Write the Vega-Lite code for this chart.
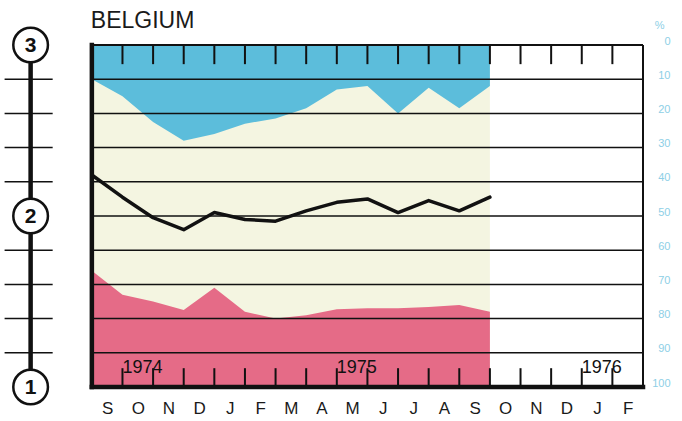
{
  "$schema": "https://vega.github.io/schema/vega-lite/v6.json",
  "width": 643,
  "height": 342,
  "autosize": {"type": "none"},
  "padding": {"left": 0, "top": 45, "right": 39, "bottom": 34},
  "background": "#ffffff",
  "config": {
    "view": {"stroke": null},
    "font": "Liberation Sans",
    "axisX": {"domain": false, "ticks": false, "tickSize": 0, "grid": false, "labelFontSize": 17, "labelColor": "#1a1a1a", "labelPadding": 13, "labelFlush": false, "labelOverlap": false, "labelBound": false, "labelFont": "Liberation Sans"},
    "axisY": {"domain": false, "ticks": false, "tickSize": 0, "grid": false, "labelColor": "#8ecfe6", "labelFontSize": 11, "labelAlign": "right", "labelBaseline": "middle", "labelPadding": 27, "labelOffset": -4, "labelFlush": false, "labelOverlap": false, "labelBound": false, "titleAngle": 0, "titleX": 21, "titleY": -20, "titleAlign": "right", "titleBaseline": "middle", "titleColor": "#8ecfe6", "titleFontSize": 11, "titleFontWeight": "normal"}
  },
  "datasets": {
    "series": [
      {"k": 0, "month": "1974-09", "blue": 10, "line": 38, "pink": 66},
      {"k": 1, "month": "1974-10", "blue": 15, "line": 44.5, "pink": 73},
      {"k": 2, "month": "1974-11", "blue": 22.5, "line": 50.5, "pink": 75},
      {"k": 3, "month": "1974-12", "blue": 28, "line": 54, "pink": 77.5},
      {"k": 4, "month": "1975-01", "blue": 26, "line": 49, "pink": 71},
      {"k": 5, "month": "1975-02", "blue": 23, "line": 51, "pink": 78},
      {"k": 6, "month": "1975-03", "blue": 21.5, "line": 51.5, "pink": 80},
      {"k": 7, "month": "1975-04", "blue": 18.5, "line": 48.5, "pink": 79},
      {"k": 8, "month": "1975-05", "blue": 13, "line": 46, "pink": 77.3},
      {"k": 9, "month": "1975-06", "blue": 12, "line": 45, "pink": 77},
      {"k": 10, "month": "1975-07", "blue": 20, "line": 49, "pink": 77},
      {"k": 11, "month": "1975-08", "blue": 12.5, "line": 45.5, "pink": 76.6},
      {"k": 12, "month": "1975-09", "blue": 18.5, "line": 48.5, "pink": 76},
      {"k": 13, "month": "1975-10", "blue": 12, "line": 44.5, "pink": 78}
    ],
    "grid": [{"v": 10}, {"v": 20}, {"v": 30}, {"v": 40}, {"v": 50}, {"v": 60}, {"v": 70}, {"v": 80}, {"v": 90}],
    "bounds": [{"b": 1}, {"b": 2}, {"b": 3}, {"b": 4}, {"b": 5}, {"b": 6}, {"b": 7}, {"b": 8}, {"b": 9}, {"b": 10}, {"b": 11}, {"b": 12}, {"b": 13}, {"b": 14}, {"b": 15}, {"b": 16}, {"b": 17}],
    "years": [{"year": "1974", "b": 1}, {"year": "1975", "b": 8}, {"year": "1976", "b": 16}],
    "circles": [{"n": "3", "v": 0}, {"n": "2", "v": 50}, {"n": "1", "v": 100}],
    "one": [{}]
  },
  "layer": [
    {
      "data": {"name": "one"},
      "mark": {"type": "rect", "color": "#f4f5e1"},
      "encoding": {
        "x": {"datum": 0, "type": "quantitative"},
        "x2": {"datum": 13},
        "y": {"datum": 0, "type": "quantitative"},
        "y2": {"datum": 100}
      }
    },
    {
      "data": {"name": "series"},
      "mark": {"type": "area", "color": "#5cbddb", "interpolate": "linear"},
      "encoding": {
        "x": {"field": "k", "type": "quantitative",
          "scale": {"type": "linear", "domain": [-3, 18], "nice": false, "zero": false},
          "axis": {"orient": "bottom", "values": [0.5, 1.5, 2.5, 3.5, 4.5, 5.5, 6.5, 7.5, 8.5, 9.5, 10.5, 11.5, 12.5, 13.5, 14.5, 15.5, 16.5, 17.5],
            "tickCount": 40,
            "labelExpr": "['S','O','N','D','J','F','M','A','M','J','J','A','S','O','N','D','J','F'][floor(datum.value)]",
            "title": null, "labelOverlap": false}},
        "y": {"field": "blue", "type": "quantitative",
          "scale": {"domain": [0, 100], "reverse": true, "nice": false, "zero": false},
          "axis": {"orient": "right", "values": [0, 10, 20, 30, 40, 50, 60, 70, 80, 90, 100],
            "tickCount": 20, "title": "%", "labelOverlap": false}},
        "y2": {"datum": 0}
      }
    },
    {
      "data": {"name": "series"},
      "mark": {"type": "area", "color": "#e56b87", "interpolate": "linear"},
      "encoding": {
        "x": {"field": "k", "type": "quantitative"},
        "y": {"field": "pink", "type": "quantitative"},
        "y2": {"datum": 100}
      }
    },
    {
      "data": {"name": "grid"},
      "mark": {"type": "rule", "color": "#111111", "strokeWidth": 1.5},
      "encoding": {
        "x": {"datum": 0, "type": "quantitative"},
        "x2": {"datum": 18},
        "y": {"field": "v", "type": "quantitative"}
      }
    },
    {
      "data": {"name": "bounds"},
      "mark": {"type": "rule", "color": "#111111", "strokeWidth": 2},
      "encoding": {
        "x": {"field": "b", "type": "quantitative"},
        "y": {"datum": 0, "type": "quantitative"},
        "y2": {"datum": 5.6}
      }
    },
    {
      "data": {"name": "bounds"},
      "mark": {"type": "rule", "color": "#111111", "strokeWidth": 2},
      "encoding": {
        "x": {"field": "b", "type": "quantitative"},
        "y": {"datum": 94.5, "type": "quantitative"},
        "y2": {"datum": 100}
      }
    },
    {
      "data": {"name": "series"},
      "mark": {"type": "line", "color": "#111111", "strokeWidth": 3.5, "strokeJoin": "round", "strokeCap": "round"},
      "encoding": {
        "x": {"field": "k", "type": "quantitative"},
        "y": {"field": "line", "type": "quantitative"}
      }
    },
    {
      "data": {"name": "one"},
      "mark": {"type": "rule", "color": "#111111", "strokeWidth": 2},
      "encoding": {
        "x": {"datum": 0, "type": "quantitative"},
        "x2": {"datum": 18},
        "y": {"datum": 0, "type": "quantitative"}
      }
    },
    {
      "data": {"name": "one"},
      "mark": {"type": "rule", "color": "#111111", "strokeWidth": 2},
      "encoding": {
        "x": {"datum": 18, "type": "quantitative"},
        "y": {"datum": 0, "type": "quantitative"},
        "y2": {"datum": 100}
      }
    },
    {
      "data": {"name": "one"},
      "mark": {"type": "rule", "color": "#111111", "strokeWidth": 4.5, "strokeCap": "square"},
      "encoding": {
        "x": {"datum": 0, "type": "quantitative"},
        "x2": {"datum": 18},
        "y": {"datum": 100, "type": "quantitative"}
      }
    },
    {
      "data": {"name": "one"},
      "mark": {"type": "rule", "color": "#111111", "strokeWidth": 4.5, "strokeCap": "square"},
      "encoding": {
        "x": {"datum": 0, "type": "quantitative"},
        "y": {"datum": 0, "type": "quantitative"},
        "y2": {"datum": 100}
      }
    },
    {
      "data": {"name": "one"},
      "mark": {"type": "rule", "color": "#111111", "strokeWidth": 4.5},
      "encoding": {
        "x": {"datum": -2, "type": "quantitative"},
        "y": {"datum": 0, "type": "quantitative"},
        "y2": {"datum": 100}
      }
    },
    {
      "data": {"name": "grid"},
      "transform": [{"filter": "datum.v != 50"}],
      "mark": {"type": "rule", "color": "#111111", "strokeWidth": 1.5},
      "encoding": {
        "x": {"datum": -2.85, "type": "quantitative"},
        "x2": {"datum": -1.28},
        "y": {"field": "v", "type": "quantitative"}
      }
    },
    {
      "data": {"name": "circles"},
      "mark": {"type": "point", "shape": "circle", "filled": false, "fill": "#ffffff", "fillOpacity": 1, "stroke": "#111111", "strokeWidth": 2.5, "opacity": 1, "size": 1200},
      "encoding": {
        "x": {"datum": -2, "type": "quantitative"},
        "y": {"field": "v", "type": "quantitative"}
      }
    },
    {
      "data": {"name": "circles"},
      "mark": {"type": "text", "fontSize": 21, "fontWeight": "bold", "color": "#111111", "align": "center", "baseline": "middle", "dy": 1},
      "encoding": {
        "x": {"datum": -2, "type": "quantitative"},
        "y": {"field": "v", "type": "quantitative"},
        "text": {"field": "n"}
      }
    },
    {
      "data": {"name": "years"},
      "mark": {"type": "text", "fontSize": 18, "color": "#111111", "align": "left", "baseline": "alphabetic", "dx": 0},
      "encoding": {
        "x": {"field": "b", "type": "quantitative"},
        "y": {"datum": 96, "type": "quantitative"},
        "text": {"field": "year"}
      }
    },
    {
      "data": {"name": "one"},
      "mark": {"type": "text", "text": "BELGIUM", "fontSize": 23, "color": "#1a1a1a", "align": "left", "baseline": "alphabetic", "dx": -1},
      "encoding": {
        "x": {"datum": 0, "type": "quantitative"},
        "y": {"datum": -5, "type": "quantitative"}
      }
    }
  ]
}
